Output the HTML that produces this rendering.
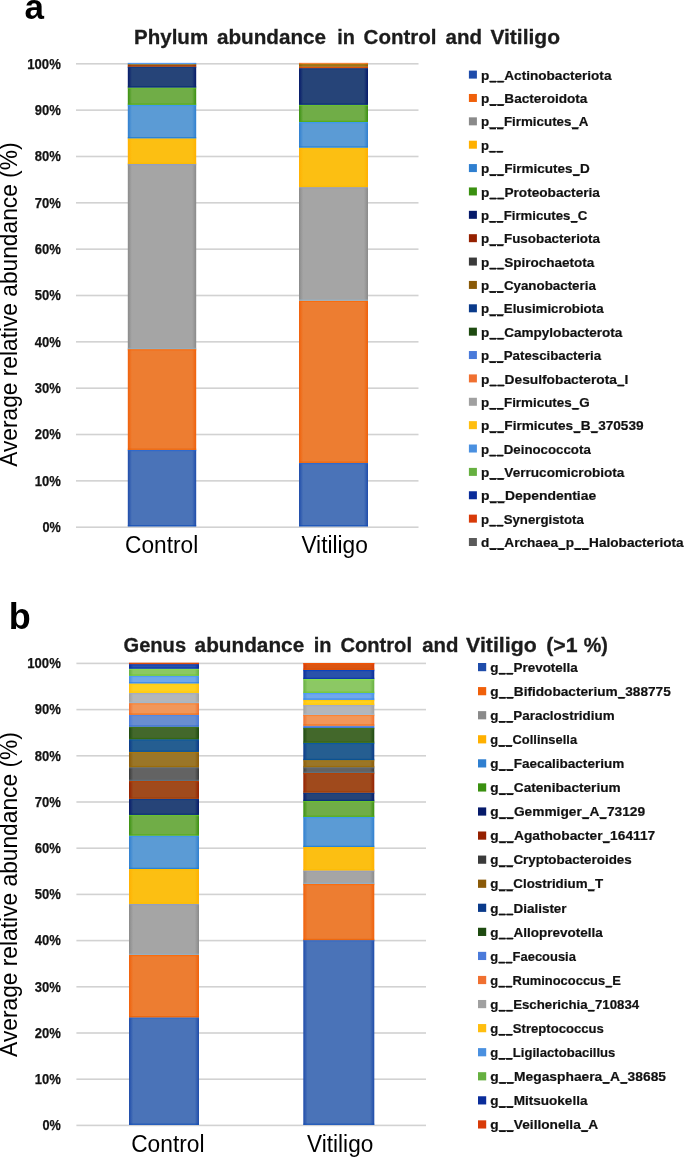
<!DOCTYPE html>
<html><head><meta charset="utf-8"><title>Phylum and Genus abundance</title>
<style>html,body{margin:0;padding:0;background:#fff;width:685px;height:1157px;overflow:hidden}</style>
</head><body>
<svg width="685" height="1157" viewBox="0 0 685 1157" style="display:block;font-family:'Liberation Sans', sans-serif;will-change:transform">
<defs><linearGradient id="g_blue" x1="0" y1="0" x2="1" y2="0"><stop offset="0" stop-color="#1F4CAA"/><stop offset="0.06" stop-color="#4A73B8"/><stop offset="0.94" stop-color="#4A73B8"/><stop offset="1" stop-color="#1F4CAA"/></linearGradient><linearGradient id="g_orange" x1="0" y1="0" x2="1" y2="0"><stop offset="0" stop-color="#F0600A"/><stop offset="0.06" stop-color="#ED7D31"/><stop offset="0.94" stop-color="#ED7D31"/><stop offset="1" stop-color="#F0600A"/></linearGradient><linearGradient id="g_gray" x1="0" y1="0" x2="1" y2="0"><stop offset="0" stop-color="#8A8A8A"/><stop offset="0.06" stop-color="#A5A5A5"/><stop offset="0.94" stop-color="#A5A5A5"/><stop offset="1" stop-color="#8A8A8A"/></linearGradient><linearGradient id="g_gold" x1="0" y1="0" x2="1" y2="0"><stop offset="0" stop-color="#FFB000"/><stop offset="0.06" stop-color="#FCBF12"/><stop offset="0.94" stop-color="#FCBF12"/><stop offset="1" stop-color="#FFB000"/></linearGradient><linearGradient id="g_lblue" x1="0" y1="0" x2="1" y2="0"><stop offset="0" stop-color="#2F7FD0"/><stop offset="0.06" stop-color="#5B9BD5"/><stop offset="0.94" stop-color="#5B9BD5"/><stop offset="1" stop-color="#2F7FD0"/></linearGradient><linearGradient id="g_green" x1="0" y1="0" x2="1" y2="0"><stop offset="0" stop-color="#3A9010"/><stop offset="0.06" stop-color="#70AD47"/><stop offset="0.94" stop-color="#70AD47"/><stop offset="1" stop-color="#3A9010"/></linearGradient><linearGradient id="g_navy" x1="0" y1="0" x2="1" y2="0"><stop offset="0" stop-color="#061A6A"/><stop offset="0.06" stop-color="#264478"/><stop offset="0.94" stop-color="#264478"/><stop offset="1" stop-color="#061A6A"/></linearGradient><linearGradient id="g_brown" x1="0" y1="0" x2="1" y2="0"><stop offset="0" stop-color="#952000"/><stop offset="0.06" stop-color="#A04A1C"/><stop offset="0.94" stop-color="#A04A1C"/><stop offset="1" stop-color="#952000"/></linearGradient><linearGradient id="g_dgold" x1="0" y1="0" x2="1" y2="0"><stop offset="0" stop-color="#8A5A08"/><stop offset="0.06" stop-color="#9A7628"/><stop offset="0.94" stop-color="#9A7628"/><stop offset="1" stop-color="#8A5A08"/></linearGradient><linearGradient id="g_lblue2" x1="0" y1="0" x2="1" y2="0"><stop offset="0" stop-color="#4A90E0"/><stop offset="0.06" stop-color="#70A8EC"/><stop offset="0.94" stop-color="#70A8EC"/><stop offset="1" stop-color="#4A90E0"/></linearGradient><linearGradient id="g_orange3" x1="0" y1="0" x2="1" y2="0"><stop offset="0" stop-color="#D83A08"/><stop offset="0.06" stop-color="#DA5512"/><stop offset="0.94" stop-color="#DA5512"/><stop offset="1" stop-color="#D83A08"/></linearGradient><linearGradient id="g_orange2" x1="0" y1="0" x2="1" y2="0"><stop offset="0" stop-color="#F07030"/><stop offset="0.06" stop-color="#F1975A"/><stop offset="0.94" stop-color="#F1975A"/><stop offset="1" stop-color="#F07030"/></linearGradient><linearGradient id="g_dgray" x1="0" y1="0" x2="1" y2="0"><stop offset="0" stop-color="#3A3A3A"/><stop offset="0.06" stop-color="#636363"/><stop offset="0.94" stop-color="#636363"/><stop offset="1" stop-color="#3A3A3A"/></linearGradient><linearGradient id="g_dlblue" x1="0" y1="0" x2="1" y2="0"><stop offset="0" stop-color="#0A3A8A"/><stop offset="0.06" stop-color="#255E91"/><stop offset="0.94" stop-color="#255E91"/><stop offset="1" stop-color="#0A3A8A"/></linearGradient><linearGradient id="g_dgreen" x1="0" y1="0" x2="1" y2="0"><stop offset="0" stop-color="#1E4A10"/><stop offset="0.06" stop-color="#43682B"/><stop offset="0.94" stop-color="#43682B"/><stop offset="1" stop-color="#1E4A10"/></linearGradient><linearGradient id="g_blue2" x1="0" y1="0" x2="1" y2="0"><stop offset="0" stop-color="#4A7ADA"/><stop offset="0.06" stop-color="#698ED0"/><stop offset="0.94" stop-color="#698ED0"/><stop offset="1" stop-color="#4A7ADA"/></linearGradient><linearGradient id="g_gray2" x1="0" y1="0" x2="1" y2="0"><stop offset="0" stop-color="#A0A0A0"/><stop offset="0.06" stop-color="#B3B6BA"/><stop offset="0.94" stop-color="#B3B6BA"/><stop offset="1" stop-color="#A0A0A0"/></linearGradient><linearGradient id="g_gold2" x1="0" y1="0" x2="1" y2="0"><stop offset="0" stop-color="#FFBE10"/><stop offset="0.06" stop-color="#FFD020"/><stop offset="0.94" stop-color="#FFD020"/><stop offset="1" stop-color="#FFBE10"/></linearGradient><linearGradient id="g_green2" x1="0" y1="0" x2="1" y2="0"><stop offset="0" stop-color="#66B040"/><stop offset="0.06" stop-color="#8CC864"/><stop offset="0.94" stop-color="#8CC864"/><stop offset="1" stop-color="#66B040"/></linearGradient><linearGradient id="g_blue3" x1="0" y1="0" x2="1" y2="0"><stop offset="0" stop-color="#0A2C9A"/><stop offset="0.06" stop-color="#2A52AA"/><stop offset="0.94" stop-color="#2A52AA"/><stop offset="1" stop-color="#0A2C9A"/></linearGradient></defs>
<rect x="0" y="0" width="685" height="1157" fill="#fff"/>
<rect x="76.00" y="63.00" width="342.50" height="1.60" fill="#d2d2d2" />
<rect x="76.00" y="109.34" width="342.50" height="1.60" fill="#d2d2d2" />
<rect x="76.00" y="155.68" width="342.50" height="1.60" fill="#d2d2d2" />
<rect x="76.00" y="202.02" width="342.50" height="1.60" fill="#d2d2d2" />
<rect x="76.00" y="248.36" width="342.50" height="1.60" fill="#d2d2d2" />
<rect x="76.00" y="294.70" width="342.50" height="1.60" fill="#d2d2d2" />
<rect x="76.00" y="341.04" width="342.50" height="1.60" fill="#d2d2d2" />
<rect x="76.00" y="387.38" width="342.50" height="1.60" fill="#d2d2d2" />
<rect x="76.00" y="433.72" width="342.50" height="1.60" fill="#d2d2d2" />
<rect x="76.00" y="480.06" width="342.50" height="1.60" fill="#d2d2d2" />
<rect x="76.00" y="526.40" width="342.50" height="1.60" fill="#d2d2d2" />
<rect x="127.80" y="449.90" width="68.40" height="76.50" fill="url(#g_blue)" />
<rect x="127.80" y="449.90" width="68.40" height="1.30" fill="#2566d4" opacity="0.7"/>
<rect x="127.80" y="525.10" width="68.40" height="1.30" fill="#0c4cb8" opacity="0.7"/>
<rect x="127.80" y="349.10" width="68.40" height="100.80" fill="url(#g_orange)" />
<rect x="127.80" y="349.10" width="68.40" height="1.30" fill="#ff6700" opacity="0.7"/>
<rect x="127.80" y="448.60" width="68.40" height="1.30" fill="#ed6000" opacity="0.7"/>
<rect x="127.80" y="164.00" width="68.40" height="185.10" fill="url(#g_gray)" />
<rect x="127.80" y="164.00" width="68.40" height="1.30" fill="#8e9bc8" opacity="0.7"/>
<rect x="127.80" y="347.80" width="68.40" height="1.30" fill="#90b0c8" opacity="0.7"/>
<rect x="127.80" y="138.30" width="68.40" height="25.70" fill="url(#g_gold)" />
<rect x="127.80" y="138.30" width="68.40" height="1.30" fill="#ffbd00" opacity="0.7"/>
<rect x="127.80" y="162.70" width="68.40" height="1.30" fill="#fcba00" opacity="0.7"/>
<rect x="127.80" y="104.80" width="68.40" height="33.50" fill="url(#g_lblue)" />
<rect x="127.80" y="104.80" width="68.40" height="1.30" fill="#3298f5" opacity="0.7"/>
<rect x="127.80" y="137.00" width="68.40" height="1.30" fill="#157ad5" opacity="0.7"/>
<rect x="127.80" y="87.50" width="68.40" height="17.30" fill="url(#g_green)" />
<rect x="127.80" y="87.50" width="68.40" height="1.30" fill="#66c725" opacity="0.7"/>
<rect x="127.80" y="103.50" width="68.40" height="1.30" fill="#4dad0d" opacity="0.7"/>
<rect x="127.80" y="66.70" width="68.40" height="20.80" fill="url(#g_navy)" />
<rect x="127.80" y="66.70" width="68.40" height="1.30" fill="#09388a" opacity="0.7"/>
<rect x="127.80" y="86.20" width="68.40" height="1.30" fill="#002c78" opacity="0.7"/>
<rect x="127.80" y="65.00" width="68.40" height="1.70" fill="url(#g_brown)" />
<rect x="127.80" y="65.00" width="68.40" height="0.57" fill="#b84000" opacity="0.7"/>
<rect x="127.80" y="66.13" width="68.40" height="0.57" fill="#a03800" opacity="0.7"/>
<rect x="127.80" y="64.10" width="68.40" height="0.90" fill="url(#g_dgold)" />
<rect x="127.80" y="64.10" width="68.40" height="0.30" fill="#b17900" opacity="0.7"/>
<rect x="127.80" y="64.70" width="68.40" height="0.30" fill="#9a6900" opacity="0.7"/>
<rect x="127.80" y="62.90" width="68.40" height="1.20" fill="url(#g_lblue2)" />
<rect x="127.80" y="62.90" width="68.40" height="0.40" fill="#4498ff" opacity="0.7"/>
<rect x="127.80" y="63.70" width="68.40" height="0.40" fill="#2780ec" opacity="0.7"/>
<rect x="299.00" y="462.90" width="69.00" height="63.50" fill="url(#g_blue)" />
<rect x="299.00" y="462.90" width="69.00" height="1.30" fill="#2566d4" opacity="0.7"/>
<rect x="299.00" y="525.10" width="69.00" height="1.30" fill="#0c4cb8" opacity="0.7"/>
<rect x="299.00" y="300.70" width="69.00" height="162.20" fill="url(#g_orange)" />
<rect x="299.00" y="300.70" width="69.00" height="1.30" fill="#ff6700" opacity="0.7"/>
<rect x="299.00" y="461.60" width="69.00" height="1.30" fill="#ed6000" opacity="0.7"/>
<rect x="299.00" y="187.10" width="69.00" height="113.60" fill="url(#g_gray)" />
<rect x="299.00" y="187.10" width="69.00" height="1.30" fill="#8e9bc8" opacity="0.7"/>
<rect x="299.00" y="299.40" width="69.00" height="1.30" fill="#90b0c8" opacity="0.7"/>
<rect x="299.00" y="147.60" width="69.00" height="39.50" fill="url(#g_gold)" />
<rect x="299.00" y="147.60" width="69.00" height="1.30" fill="#ffbd00" opacity="0.7"/>
<rect x="299.00" y="185.80" width="69.00" height="1.30" fill="#fcba00" opacity="0.7"/>
<rect x="299.00" y="122.00" width="69.00" height="25.60" fill="url(#g_lblue)" />
<rect x="299.00" y="122.00" width="69.00" height="1.30" fill="#3298f5" opacity="0.7"/>
<rect x="299.00" y="146.30" width="69.00" height="1.30" fill="#157ad5" opacity="0.7"/>
<rect x="299.00" y="104.80" width="69.00" height="17.20" fill="url(#g_green)" />
<rect x="299.00" y="104.80" width="69.00" height="1.30" fill="#66c725" opacity="0.7"/>
<rect x="299.00" y="120.70" width="69.00" height="1.30" fill="#4dad0d" opacity="0.7"/>
<rect x="299.00" y="68.10" width="69.00" height="36.70" fill="url(#g_navy)" />
<rect x="299.00" y="68.10" width="69.00" height="1.30" fill="#09388a" opacity="0.7"/>
<rect x="299.00" y="103.50" width="69.00" height="1.30" fill="#002c78" opacity="0.7"/>
<rect x="299.00" y="66.60" width="69.00" height="1.50" fill="url(#g_orange3)" />
<rect x="299.00" y="66.60" width="69.00" height="0.50" fill="#fb5400" opacity="0.7"/>
<rect x="299.00" y="67.60" width="69.00" height="0.50" fill="#da4900" opacity="0.7"/>
<rect x="299.00" y="64.00" width="69.00" height="2.60" fill="url(#g_dgold)" />
<rect x="299.00" y="64.00" width="69.00" height="0.87" fill="#b17900" opacity="0.7"/>
<rect x="299.00" y="65.73" width="69.00" height="0.87" fill="#9a6900" opacity="0.7"/>
<rect x="299.00" y="62.90" width="69.00" height="1.10" fill="url(#g_orange2)" />
<rect x="299.00" y="62.90" width="69.00" height="0.37" fill="#ff7c23" opacity="0.7"/>
<rect x="299.00" y="63.63" width="69.00" height="0.37" fill="#f16506" opacity="0.7"/>
<rect x="76.40" y="662.60" width="349.60" height="1.60" fill="#d2d2d2" />
<rect x="76.40" y="708.80" width="349.60" height="1.60" fill="#d2d2d2" />
<rect x="76.40" y="755.00" width="349.60" height="1.60" fill="#d2d2d2" />
<rect x="76.40" y="801.20" width="349.60" height="1.60" fill="#d2d2d2" />
<rect x="76.40" y="847.40" width="349.60" height="1.60" fill="#d2d2d2" />
<rect x="76.40" y="893.60" width="349.60" height="1.60" fill="#d2d2d2" />
<rect x="76.40" y="939.80" width="349.60" height="1.60" fill="#d2d2d2" />
<rect x="76.40" y="986.00" width="349.60" height="1.60" fill="#d2d2d2" />
<rect x="76.40" y="1032.20" width="349.60" height="1.60" fill="#d2d2d2" />
<rect x="76.40" y="1078.40" width="349.60" height="1.60" fill="#d2d2d2" />
<rect x="76.40" y="1124.60" width="349.60" height="1.60" fill="#d2d2d2" />
<rect x="129.00" y="1017.30" width="70.00" height="107.60" fill="url(#g_blue)" />
<rect x="129.00" y="1017.30" width="70.00" height="1.30" fill="#2566d4" opacity="0.7"/>
<rect x="129.00" y="1123.60" width="70.00" height="1.30" fill="#0c4cb8" opacity="0.7"/>
<rect x="129.00" y="954.90" width="70.00" height="62.40" fill="url(#g_orange)" />
<rect x="129.00" y="954.90" width="70.00" height="1.30" fill="#ff6700" opacity="0.7"/>
<rect x="129.00" y="1016.00" width="70.00" height="1.30" fill="#ed6000" opacity="0.7"/>
<rect x="129.00" y="903.90" width="70.00" height="51.00" fill="url(#g_gray)" />
<rect x="129.00" y="903.90" width="70.00" height="1.30" fill="#8e9bc8" opacity="0.7"/>
<rect x="129.00" y="953.60" width="70.00" height="1.30" fill="#90b0c8" opacity="0.7"/>
<rect x="129.00" y="869.00" width="70.00" height="34.90" fill="url(#g_gold)" />
<rect x="129.00" y="869.00" width="70.00" height="1.30" fill="#ffbd00" opacity="0.7"/>
<rect x="129.00" y="902.60" width="70.00" height="1.30" fill="#fcba00" opacity="0.7"/>
<rect x="129.00" y="835.60" width="70.00" height="33.40" fill="url(#g_lblue)" />
<rect x="129.00" y="835.60" width="70.00" height="1.30" fill="#3298f5" opacity="0.7"/>
<rect x="129.00" y="867.70" width="70.00" height="1.30" fill="#157ad5" opacity="0.7"/>
<rect x="129.00" y="814.90" width="70.00" height="20.70" fill="url(#g_green)" />
<rect x="129.00" y="814.90" width="70.00" height="1.30" fill="#66c725" opacity="0.7"/>
<rect x="129.00" y="834.30" width="70.00" height="1.30" fill="#4dad0d" opacity="0.7"/>
<rect x="129.00" y="798.80" width="70.00" height="16.10" fill="url(#g_navy)" />
<rect x="129.00" y="798.80" width="70.00" height="1.30" fill="#09388a" opacity="0.7"/>
<rect x="129.00" y="813.60" width="70.00" height="1.30" fill="#002c78" opacity="0.7"/>
<rect x="129.00" y="780.90" width="70.00" height="17.90" fill="url(#g_brown)" />
<rect x="129.00" y="780.90" width="70.00" height="1.30" fill="#b84000" opacity="0.7"/>
<rect x="129.00" y="797.50" width="70.00" height="1.30" fill="#a03800" opacity="0.7"/>
<rect x="129.00" y="767.20" width="70.00" height="13.70" fill="url(#g_dgray)" />
<rect x="129.00" y="767.20" width="70.00" height="1.30" fill="#5a6a80" opacity="0.7"/>
<rect x="129.00" y="779.60" width="70.00" height="1.30" fill="#5a7080" opacity="0.7"/>
<rect x="129.00" y="751.90" width="70.00" height="15.30" fill="url(#g_dgold)" />
<rect x="129.00" y="751.90" width="70.00" height="1.30" fill="#b17900" opacity="0.7"/>
<rect x="129.00" y="765.90" width="70.00" height="1.30" fill="#9a6900" opacity="0.7"/>
<rect x="129.00" y="739.20" width="70.00" height="12.70" fill="url(#g_dlblue)" />
<rect x="129.00" y="739.20" width="70.00" height="1.30" fill="#0058a7" opacity="0.7"/>
<rect x="129.00" y="750.60" width="70.00" height="1.30" fill="#004d91" opacity="0.7"/>
<rect x="129.00" y="726.70" width="70.00" height="12.50" fill="url(#g_dgreen)" />
<rect x="129.00" y="726.70" width="70.00" height="1.30" fill="#3d7816" opacity="0.7"/>
<rect x="129.00" y="737.90" width="70.00" height="1.30" fill="#2e6808" opacity="0.7"/>
<rect x="129.00" y="714.80" width="70.00" height="11.90" fill="url(#g_blue2)" />
<rect x="129.00" y="714.80" width="70.00" height="1.30" fill="#4985ef" opacity="0.7"/>
<rect x="129.00" y="725.40" width="70.00" height="1.30" fill="#2b66d0" opacity="0.7"/>
<rect x="129.00" y="703.10" width="70.00" height="11.70" fill="url(#g_orange2)" />
<rect x="129.00" y="703.10" width="70.00" height="1.30" fill="#ff7c23" opacity="0.7"/>
<rect x="129.00" y="713.50" width="70.00" height="1.30" fill="#f16506" opacity="0.7"/>
<rect x="129.00" y="692.90" width="70.00" height="10.20" fill="url(#g_gray2)" />
<rect x="129.00" y="692.90" width="70.00" height="1.30" fill="#a0a8c8" opacity="0.7"/>
<rect x="129.00" y="701.80" width="70.00" height="1.30" fill="#a0b8d0" opacity="0.7"/>
<rect x="129.00" y="683.40" width="70.00" height="9.50" fill="url(#g_gold2)" />
<rect x="129.00" y="683.40" width="70.00" height="1.30" fill="#ffc900" opacity="0.7"/>
<rect x="129.00" y="691.60" width="70.00" height="1.30" fill="#ffc900" opacity="0.7"/>
<rect x="129.00" y="675.80" width="70.00" height="7.60" fill="url(#g_lblue2)" />
<rect x="129.00" y="675.80" width="70.00" height="1.30" fill="#4498ff" opacity="0.7"/>
<rect x="129.00" y="682.10" width="70.00" height="1.30" fill="#2780ec" opacity="0.7"/>
<rect x="129.00" y="668.70" width="70.00" height="7.10" fill="url(#g_green2)" />
<rect x="129.00" y="668.70" width="70.00" height="1.30" fill="#85e645" opacity="0.7"/>
<rect x="129.00" y="674.50" width="70.00" height="1.30" fill="#68c828" opacity="0.7"/>
<rect x="129.00" y="664.10" width="70.00" height="4.60" fill="url(#g_blue3)" />
<rect x="129.00" y="664.10" width="70.00" height="1.30" fill="#003dc3" opacity="0.7"/>
<rect x="129.00" y="667.40" width="70.00" height="1.30" fill="#0035aa" opacity="0.7"/>
<rect x="129.00" y="662.80" width="70.00" height="1.30" fill="url(#g_orange3)" />
<rect x="129.00" y="662.80" width="70.00" height="0.43" fill="#fb5400" opacity="0.7"/>
<rect x="129.00" y="663.67" width="70.00" height="0.43" fill="#da4900" opacity="0.7"/>
<rect x="303.30" y="940.10" width="71.00" height="184.80" fill="url(#g_blue)" />
<rect x="303.30" y="940.10" width="71.00" height="1.30" fill="#2566d4" opacity="0.7"/>
<rect x="303.30" y="1123.60" width="71.00" height="1.30" fill="#0c4cb8" opacity="0.7"/>
<rect x="303.30" y="883.90" width="71.00" height="56.20" fill="url(#g_orange)" />
<rect x="303.30" y="883.90" width="71.00" height="1.30" fill="#ff6700" opacity="0.7"/>
<rect x="303.30" y="938.80" width="71.00" height="1.30" fill="#ed6000" opacity="0.7"/>
<rect x="303.30" y="870.40" width="71.00" height="13.50" fill="url(#g_gray)" />
<rect x="303.30" y="870.40" width="71.00" height="1.30" fill="#8e9bc8" opacity="0.7"/>
<rect x="303.30" y="882.60" width="71.00" height="1.30" fill="#90b0c8" opacity="0.7"/>
<rect x="303.30" y="847.00" width="71.00" height="23.40" fill="url(#g_gold)" />
<rect x="303.30" y="847.00" width="71.00" height="1.30" fill="#ffbd00" opacity="0.7"/>
<rect x="303.30" y="869.10" width="71.00" height="1.30" fill="#fcba00" opacity="0.7"/>
<rect x="303.30" y="816.90" width="71.00" height="30.10" fill="url(#g_lblue)" />
<rect x="303.30" y="816.90" width="71.00" height="1.30" fill="#3298f5" opacity="0.7"/>
<rect x="303.30" y="845.70" width="71.00" height="1.30" fill="#157ad5" opacity="0.7"/>
<rect x="303.30" y="801.00" width="71.00" height="15.90" fill="url(#g_green)" />
<rect x="303.30" y="801.00" width="71.00" height="1.30" fill="#66c725" opacity="0.7"/>
<rect x="303.30" y="815.60" width="71.00" height="1.30" fill="#4dad0d" opacity="0.7"/>
<rect x="303.30" y="792.60" width="71.00" height="8.40" fill="url(#g_navy)" />
<rect x="303.30" y="792.60" width="71.00" height="1.30" fill="#09388a" opacity="0.7"/>
<rect x="303.30" y="799.70" width="71.00" height="1.30" fill="#002c78" opacity="0.7"/>
<rect x="303.30" y="772.90" width="71.00" height="19.70" fill="url(#g_brown)" />
<rect x="303.30" y="772.90" width="71.00" height="1.30" fill="#b84000" opacity="0.7"/>
<rect x="303.30" y="791.30" width="71.00" height="1.30" fill="#a03800" opacity="0.7"/>
<rect x="303.30" y="767.20" width="71.00" height="5.70" fill="url(#g_dgray)" />
<rect x="303.30" y="767.20" width="71.00" height="1.30" fill="#5a6a80" opacity="0.7"/>
<rect x="303.30" y="771.60" width="71.00" height="1.30" fill="#5a7080" opacity="0.7"/>
<rect x="303.30" y="760.10" width="71.00" height="7.10" fill="url(#g_dgold)" />
<rect x="303.30" y="760.10" width="71.00" height="1.30" fill="#b17900" opacity="0.7"/>
<rect x="303.30" y="765.90" width="71.00" height="1.30" fill="#9a6900" opacity="0.7"/>
<rect x="303.30" y="742.80" width="71.00" height="17.30" fill="url(#g_dlblue)" />
<rect x="303.30" y="742.80" width="71.00" height="1.30" fill="#0058a7" opacity="0.7"/>
<rect x="303.30" y="758.80" width="71.00" height="1.30" fill="#004d91" opacity="0.7"/>
<rect x="303.30" y="728.00" width="71.00" height="14.80" fill="url(#g_dgreen)" />
<rect x="303.30" y="728.00" width="71.00" height="1.30" fill="#3d7816" opacity="0.7"/>
<rect x="303.30" y="741.50" width="71.00" height="1.30" fill="#2e6808" opacity="0.7"/>
<rect x="303.30" y="725.70" width="71.00" height="2.30" fill="url(#g_blue2)" />
<rect x="303.30" y="725.70" width="71.00" height="0.77" fill="#4985ef" opacity="0.7"/>
<rect x="303.30" y="727.23" width="71.00" height="0.77" fill="#2b66d0" opacity="0.7"/>
<rect x="303.30" y="714.80" width="71.00" height="10.90" fill="url(#g_orange2)" />
<rect x="303.30" y="714.80" width="71.00" height="1.30" fill="#ff7c23" opacity="0.7"/>
<rect x="303.30" y="724.40" width="71.00" height="1.30" fill="#f16506" opacity="0.7"/>
<rect x="303.30" y="704.90" width="71.00" height="9.90" fill="url(#g_gray2)" />
<rect x="303.30" y="704.90" width="71.00" height="1.30" fill="#a0a8c8" opacity="0.7"/>
<rect x="303.30" y="713.50" width="71.00" height="1.30" fill="#a0b8d0" opacity="0.7"/>
<rect x="303.30" y="699.80" width="71.00" height="5.10" fill="url(#g_gold2)" />
<rect x="303.30" y="699.80" width="71.00" height="1.30" fill="#ffc900" opacity="0.7"/>
<rect x="303.30" y="703.60" width="71.00" height="1.30" fill="#ffc900" opacity="0.7"/>
<rect x="303.30" y="692.90" width="71.00" height="6.90" fill="url(#g_lblue2)" />
<rect x="303.30" y="692.90" width="71.00" height="1.30" fill="#4498ff" opacity="0.7"/>
<rect x="303.30" y="698.50" width="71.00" height="1.30" fill="#2780ec" opacity="0.7"/>
<rect x="303.30" y="679.00" width="71.00" height="13.90" fill="url(#g_green2)" />
<rect x="303.30" y="679.00" width="71.00" height="1.30" fill="#85e645" opacity="0.7"/>
<rect x="303.30" y="691.60" width="71.00" height="1.30" fill="#68c828" opacity="0.7"/>
<rect x="303.30" y="669.90" width="71.00" height="9.10" fill="url(#g_blue3)" />
<rect x="303.30" y="669.90" width="71.00" height="1.30" fill="#003dc3" opacity="0.7"/>
<rect x="303.30" y="677.70" width="71.00" height="1.30" fill="#0035aa" opacity="0.7"/>
<rect x="303.30" y="663.00" width="71.00" height="6.90" fill="url(#g_orange3)" />
<rect x="303.30" y="663.00" width="71.00" height="1.30" fill="#fb5400" opacity="0.7"/>
<rect x="303.30" y="668.60" width="71.00" height="1.30" fill="#da4900" opacity="0.7"/>
<text x="24.60" y="19.10" font-size="35" font-weight="bold" fill="#000" text-anchor="start" >a</text>
<text x="8.70" y="628.60" font-size="36" font-weight="bold" fill="#000" text-anchor="start" >b</text>
<text x="134.09" y="44.40" font-size="20.3" font-weight="bold" fill="#1c1c1c" textLength="74.06" lengthAdjust="spacingAndGlyphs" stroke="#1c1c1c" stroke-width="0.3">Phylum</text>
<text x="217.00" y="44.40" font-size="20.3" font-weight="bold" fill="#1c1c1c" textLength="109.08" lengthAdjust="spacingAndGlyphs" stroke="#1c1c1c" stroke-width="0.3">abundance</text>
<text x="337.22" y="44.40" font-size="20.3" font-weight="bold" fill="#1c1c1c" textLength="17.66" lengthAdjust="spacingAndGlyphs" stroke="#1c1c1c" stroke-width="0.3">in</text>
<text x="363.60" y="44.40" font-size="20.3" font-weight="bold" fill="#1c1c1c" textLength="72.94" lengthAdjust="spacingAndGlyphs" stroke="#1c1c1c" stroke-width="0.3">Control</text>
<text x="445.50" y="44.40" font-size="20.3" font-weight="bold" fill="#1c1c1c" textLength="36.49" lengthAdjust="spacingAndGlyphs" stroke="#1c1c1c" stroke-width="0.3">and</text>
<text x="490.40" y="44.40" font-size="20.3" font-weight="bold" fill="#1c1c1c" textLength="69.60" lengthAdjust="spacingAndGlyphs" stroke="#1c1c1c" stroke-width="0.3">Vitiligo</text>
<text x="123.50" y="652.40" font-size="20.3" font-weight="bold" fill="#1c1c1c" textLength="62.58" lengthAdjust="spacingAndGlyphs" stroke="#1c1c1c" stroke-width="0.3">Genus</text>
<text x="194.60" y="652.40" font-size="20.3" font-weight="bold" fill="#1c1c1c" textLength="109.59" lengthAdjust="spacingAndGlyphs" stroke="#1c1c1c" stroke-width="0.3">abundance</text>
<text x="313.81" y="652.40" font-size="20.3" font-weight="bold" fill="#1c1c1c" textLength="17.77" lengthAdjust="spacingAndGlyphs" stroke="#1c1c1c" stroke-width="0.3">in</text>
<text x="340.40" y="652.40" font-size="20.3" font-weight="bold" fill="#1c1c1c" textLength="71.63" lengthAdjust="spacingAndGlyphs" stroke="#1c1c1c" stroke-width="0.3">Control</text>
<text x="422.30" y="652.40" font-size="20.3" font-weight="bold" fill="#1c1c1c" textLength="36.19" lengthAdjust="spacingAndGlyphs" stroke="#1c1c1c" stroke-width="0.3">and</text>
<text x="466.10" y="652.40" font-size="20.3" font-weight="bold" fill="#1c1c1c" textLength="70.61" lengthAdjust="spacingAndGlyphs" stroke="#1c1c1c" stroke-width="0.3">Vitiligo</text>
<text x="546.15" y="652.40" font-size="20.3" font-weight="bold" fill="#1c1c1c" textLength="31.34" lengthAdjust="spacingAndGlyphs" stroke="#1c1c1c" stroke-width="0.3">(&gt;1</text>
<text x="583.70" y="652.40" font-size="20.3" font-weight="bold" fill="#1c1c1c" textLength="24.13" lengthAdjust="spacingAndGlyphs" stroke="#1c1c1c" stroke-width="0.3">%)</text>
<text x="27.30" y="68.60" font-size="14.0" font-weight="bold" fill="#141414" textLength="33.48" lengthAdjust="spacingAndGlyphs" stroke="#141414" stroke-width="0.25">100%</text>
<text x="34.70" y="114.94" font-size="14.0" font-weight="bold" fill="#141414" textLength="26.09" lengthAdjust="spacingAndGlyphs" stroke="#141414" stroke-width="0.25">90%</text>
<text x="34.70" y="161.28" font-size="14.0" font-weight="bold" fill="#141414" textLength="26.09" lengthAdjust="spacingAndGlyphs" stroke="#141414" stroke-width="0.25">80%</text>
<text x="34.70" y="207.62" font-size="14.0" font-weight="bold" fill="#141414" textLength="26.09" lengthAdjust="spacingAndGlyphs" stroke="#141414" stroke-width="0.25">70%</text>
<text x="34.70" y="253.96" font-size="14.0" font-weight="bold" fill="#141414" textLength="26.09" lengthAdjust="spacingAndGlyphs" stroke="#141414" stroke-width="0.25">60%</text>
<text x="34.70" y="300.30" font-size="14.0" font-weight="bold" fill="#141414" textLength="26.09" lengthAdjust="spacingAndGlyphs" stroke="#141414" stroke-width="0.25">50%</text>
<text x="34.70" y="346.64" font-size="14.0" font-weight="bold" fill="#141414" textLength="26.09" lengthAdjust="spacingAndGlyphs" stroke="#141414" stroke-width="0.25">40%</text>
<text x="34.70" y="392.98" font-size="14.0" font-weight="bold" fill="#141414" textLength="26.09" lengthAdjust="spacingAndGlyphs" stroke="#141414" stroke-width="0.25">30%</text>
<text x="34.70" y="439.32" font-size="14.0" font-weight="bold" fill="#141414" textLength="26.09" lengthAdjust="spacingAndGlyphs" stroke="#141414" stroke-width="0.25">20%</text>
<text x="34.70" y="485.66" font-size="14.0" font-weight="bold" fill="#141414" textLength="26.09" lengthAdjust="spacingAndGlyphs" stroke="#141414" stroke-width="0.25">10%</text>
<text x="42.50" y="532.00" font-size="14.0" font-weight="bold" fill="#141414" textLength="18.30" lengthAdjust="spacingAndGlyphs" stroke="#141414" stroke-width="0.25">0%</text>
<text x="27.30" y="668.20" font-size="14.0" font-weight="bold" fill="#141414" textLength="33.48" lengthAdjust="spacingAndGlyphs" stroke="#141414" stroke-width="0.25">100%</text>
<text x="34.70" y="714.40" font-size="14.0" font-weight="bold" fill="#141414" textLength="26.09" lengthAdjust="spacingAndGlyphs" stroke="#141414" stroke-width="0.25">90%</text>
<text x="34.70" y="760.60" font-size="14.0" font-weight="bold" fill="#141414" textLength="26.09" lengthAdjust="spacingAndGlyphs" stroke="#141414" stroke-width="0.25">80%</text>
<text x="34.70" y="806.80" font-size="14.0" font-weight="bold" fill="#141414" textLength="26.09" lengthAdjust="spacingAndGlyphs" stroke="#141414" stroke-width="0.25">70%</text>
<text x="34.70" y="853.00" font-size="14.0" font-weight="bold" fill="#141414" textLength="26.09" lengthAdjust="spacingAndGlyphs" stroke="#141414" stroke-width="0.25">60%</text>
<text x="34.70" y="899.20" font-size="14.0" font-weight="bold" fill="#141414" textLength="26.09" lengthAdjust="spacingAndGlyphs" stroke="#141414" stroke-width="0.25">50%</text>
<text x="34.70" y="945.40" font-size="14.0" font-weight="bold" fill="#141414" textLength="26.09" lengthAdjust="spacingAndGlyphs" stroke="#141414" stroke-width="0.25">40%</text>
<text x="34.70" y="991.60" font-size="14.0" font-weight="bold" fill="#141414" textLength="26.09" lengthAdjust="spacingAndGlyphs" stroke="#141414" stroke-width="0.25">30%</text>
<text x="34.70" y="1037.80" font-size="14.0" font-weight="bold" fill="#141414" textLength="26.09" lengthAdjust="spacingAndGlyphs" stroke="#141414" stroke-width="0.25">20%</text>
<text x="34.70" y="1084.00" font-size="14.0" font-weight="bold" fill="#141414" textLength="26.09" lengthAdjust="spacingAndGlyphs" stroke="#141414" stroke-width="0.25">10%</text>
<text x="42.50" y="1130.20" font-size="14.0" font-weight="bold" fill="#141414" textLength="18.30" lengthAdjust="spacingAndGlyphs" stroke="#141414" stroke-width="0.25">0%</text>
<text x="125.11" y="552.60" font-size="23" font-weight="normal" fill="#000" textLength="73.08" lengthAdjust="spacingAndGlyphs" >Control</text>
<text x="301.40" y="552.60" font-size="23" font-weight="normal" fill="#000" textLength="66.48" lengthAdjust="spacingAndGlyphs" >Vitiligo</text>
<text x="131.21" y="1152.20" font-size="23" font-weight="normal" fill="#000" textLength="73.29" lengthAdjust="spacingAndGlyphs" >Control</text>
<text x="307.10" y="1152.00" font-size="23" font-weight="normal" fill="#000" textLength="66.18" lengthAdjust="spacingAndGlyphs" >Vitiligo</text>
<text transform="rotate(-90)" x="-466.80" y="16.90" font-size="23" font-weight="normal" fill="#000" textLength="324.25" lengthAdjust="spacingAndGlyphs">Average relative abundance (%)</text>
<text transform="rotate(-90)" x="-1056.90" y="16.90" font-size="23" font-weight="normal" fill="#000" textLength="324.75" lengthAdjust="spacingAndGlyphs">Average relative abundance (%)</text>
<rect x="468.90" y="70.60" width="8.00" height="8.00" fill="#1F4CAA" />
<text x="480.90" y="79.70" font-size="13.1" font-weight="bold" fill="#111111" textLength="130.56" lengthAdjust="spacingAndGlyphs" stroke="#111111" stroke-width="0.2">p__Actinobacteriota</text>
<rect x="489.70" y="80.80" width="6.55" height="1.8" fill="#111111"/>
<rect x="497.25" y="80.80" width="6.55" height="1.8" fill="#111111"/>
<rect x="468.90" y="93.97" width="8.00" height="8.00" fill="#F0600A" />
<text x="480.90" y="103.07" font-size="13.1" font-weight="bold" fill="#111111" textLength="106.55" lengthAdjust="spacingAndGlyphs" stroke="#111111" stroke-width="0.2">p__Bacteroidota</text>
<rect x="489.71" y="104.17" width="6.56" height="1.8" fill="#111111"/>
<rect x="497.27" y="104.17" width="6.56" height="1.8" fill="#111111"/>
<rect x="468.90" y="117.34" width="8.00" height="8.00" fill="#8A8A8A" />
<text x="480.90" y="126.44" font-size="13.1" font-weight="bold" fill="#111111" textLength="107.64" lengthAdjust="spacingAndGlyphs" stroke="#111111" stroke-width="0.2">p__Firmicutes_A</text>
<rect x="489.56" y="127.54" width="6.43" height="1.8" fill="#111111"/>
<rect x="496.99" y="127.54" width="6.43" height="1.8" fill="#111111"/>
<rect x="571.97" y="127.54" width="6.43" height="1.8" fill="#111111"/>
<rect x="468.90" y="140.71" width="8.00" height="8.00" fill="#FFB000" />
<text x="480.90" y="149.81" font-size="13.1" font-weight="bold" fill="#111111" textLength="22.48" lengthAdjust="spacingAndGlyphs" stroke="#111111" stroke-width="0.2">p__</text>
<rect x="489.37" y="150.91" width="6.26" height="1.8" fill="#111111"/>
<rect x="496.63" y="150.91" width="6.26" height="1.8" fill="#111111"/>
<rect x="468.90" y="164.08" width="8.00" height="8.00" fill="#2F7FD0" />
<text x="480.90" y="173.18" font-size="13.1" font-weight="bold" fill="#111111" textLength="108.97" lengthAdjust="spacingAndGlyphs" stroke="#111111" stroke-width="0.2">p__Firmicutes_D</text>
<rect x="489.66" y="174.28" width="6.52" height="1.8" fill="#111111"/>
<rect x="497.18" y="174.28" width="6.52" height="1.8" fill="#111111"/>
<rect x="573.08" y="174.28" width="6.52" height="1.8" fill="#111111"/>
<rect x="468.90" y="187.45" width="8.00" height="8.00" fill="#3A9010" />
<text x="480.90" y="196.55" font-size="13.1" font-weight="bold" fill="#111111" textLength="119.05" lengthAdjust="spacingAndGlyphs" stroke="#111111" stroke-width="0.2">p__Proteobacteria</text>
<rect x="489.73" y="197.65" width="6.59" height="1.8" fill="#111111"/>
<rect x="497.32" y="197.65" width="6.59" height="1.8" fill="#111111"/>
<rect x="468.90" y="210.82" width="8.00" height="8.00" fill="#061A6A" />
<text x="480.90" y="219.92" font-size="13.1" font-weight="bold" fill="#111111" textLength="106.45" lengthAdjust="spacingAndGlyphs" stroke="#111111" stroke-width="0.2">p__Firmicutes_C</text>
<rect x="489.47" y="221.02" width="6.35" height="1.8" fill="#111111"/>
<rect x="496.82" y="221.02" width="6.35" height="1.8" fill="#111111"/>
<rect x="570.96" y="221.02" width="6.35" height="1.8" fill="#111111"/>
<rect x="468.90" y="234.19" width="8.00" height="8.00" fill="#952000" />
<text x="480.90" y="243.29" font-size="13.1" font-weight="bold" fill="#111111" textLength="119.07" lengthAdjust="spacingAndGlyphs" stroke="#111111" stroke-width="0.2">p__Fusobacteriota</text>
<rect x="489.58" y="244.39" width="6.45" height="1.8" fill="#111111"/>
<rect x="497.03" y="244.39" width="6.45" height="1.8" fill="#111111"/>
<rect x="468.90" y="257.56" width="8.00" height="8.00" fill="#3A3A3A" />
<text x="480.90" y="266.66" font-size="13.1" font-weight="bold" fill="#111111" textLength="113.46" lengthAdjust="spacingAndGlyphs" stroke="#111111" stroke-width="0.2">p__Spirochaetota</text>
<rect x="489.66" y="267.76" width="6.52" height="1.8" fill="#111111"/>
<rect x="497.18" y="267.76" width="6.52" height="1.8" fill="#111111"/>
<rect x="468.90" y="280.93" width="8.00" height="8.00" fill="#8A5A08" />
<text x="480.90" y="290.03" font-size="13.1" font-weight="bold" fill="#111111" textLength="114.97" lengthAdjust="spacingAndGlyphs" stroke="#111111" stroke-width="0.2">p__Cyanobacteria</text>
<rect x="489.55" y="291.13" width="6.42" height="1.8" fill="#111111"/>
<rect x="496.97" y="291.13" width="6.42" height="1.8" fill="#111111"/>
<rect x="468.90" y="304.30" width="8.00" height="8.00" fill="#0A3A8A" />
<text x="480.90" y="313.40" font-size="13.1" font-weight="bold" fill="#111111" textLength="122.67" lengthAdjust="spacingAndGlyphs" stroke="#111111" stroke-width="0.2">p__Elusimicrobiota</text>
<rect x="489.52" y="314.50" width="6.40" height="1.8" fill="#111111"/>
<rect x="496.92" y="314.50" width="6.40" height="1.8" fill="#111111"/>
<rect x="468.90" y="327.67" width="8.00" height="8.00" fill="#1E4A10" />
<text x="480.90" y="336.77" font-size="13.1" font-weight="bold" fill="#111111" textLength="141.46" lengthAdjust="spacingAndGlyphs" stroke="#111111" stroke-width="0.2">p__Campylobacterota</text>
<rect x="489.67" y="337.87" width="6.53" height="1.8" fill="#111111"/>
<rect x="497.20" y="337.87" width="6.53" height="1.8" fill="#111111"/>
<rect x="468.90" y="351.04" width="8.00" height="8.00" fill="#4A7ADA" />
<text x="480.90" y="360.14" font-size="13.1" font-weight="bold" fill="#111111" textLength="120.27" lengthAdjust="spacingAndGlyphs" stroke="#111111" stroke-width="0.2">p__Patescibacteria</text>
<rect x="489.51" y="361.24" width="6.38" height="1.8" fill="#111111"/>
<rect x="496.89" y="361.24" width="6.38" height="1.8" fill="#111111"/>
<rect x="468.90" y="374.41" width="8.00" height="8.00" fill="#F07030" />
<text x="480.90" y="383.51" font-size="13.1" font-weight="bold" fill="#111111" textLength="147.47" lengthAdjust="spacingAndGlyphs" stroke="#111111" stroke-width="0.2">p__Desulfobacterota_I</text>
<rect x="489.80" y="384.61" width="6.65" height="1.8" fill="#111111"/>
<rect x="497.45" y="384.61" width="6.65" height="1.8" fill="#111111"/>
<rect x="617.40" y="384.61" width="6.65" height="1.8" fill="#111111"/>
<rect x="468.90" y="397.78" width="8.00" height="8.00" fill="#A0A0A0" />
<text x="480.90" y="406.88" font-size="13.1" font-weight="bold" fill="#111111" textLength="108.69" lengthAdjust="spacingAndGlyphs" stroke="#111111" stroke-width="0.2">p__Firmicutes_G</text>
<rect x="489.58" y="407.98" width="6.45" height="1.8" fill="#111111"/>
<rect x="497.03" y="407.98" width="6.45" height="1.8" fill="#111111"/>
<rect x="572.22" y="407.98" width="6.45" height="1.8" fill="#111111"/>
<rect x="468.90" y="421.15" width="8.00" height="8.00" fill="#FFBE10" />
<text x="480.90" y="430.25" font-size="13.1" font-weight="bold" fill="#111111" textLength="162.69" lengthAdjust="spacingAndGlyphs" stroke="#111111" stroke-width="0.2">p__Firmicutes_B_370539</text>
<rect x="489.72" y="431.35" width="6.57" height="1.8" fill="#111111"/>
<rect x="497.29" y="431.35" width="6.57" height="1.8" fill="#111111"/>
<rect x="573.70" y="431.35" width="6.57" height="1.8" fill="#111111"/>
<rect x="591.10" y="431.35" width="6.57" height="1.8" fill="#111111"/>
<rect x="468.90" y="444.52" width="8.00" height="8.00" fill="#4A90E0" />
<text x="480.90" y="453.62" font-size="13.1" font-weight="bold" fill="#111111" textLength="109.87" lengthAdjust="spacingAndGlyphs" stroke="#111111" stroke-width="0.2">p__Deinococcota</text>
<rect x="489.51" y="454.72" width="6.38" height="1.8" fill="#111111"/>
<rect x="496.89" y="454.72" width="6.38" height="1.8" fill="#111111"/>
<rect x="468.90" y="467.89" width="8.00" height="8.00" fill="#66B040" />
<text x="480.90" y="476.99" font-size="13.1" font-weight="bold" fill="#111111" textLength="143.55" lengthAdjust="spacingAndGlyphs" stroke="#111111" stroke-width="0.2">p__Verrucomicrobiota</text>
<rect x="489.70" y="478.09" width="6.56" height="1.8" fill="#111111"/>
<rect x="497.27" y="478.09" width="6.56" height="1.8" fill="#111111"/>
<rect x="468.90" y="491.26" width="8.00" height="8.00" fill="#0A2C9A" />
<text x="480.90" y="500.36" font-size="13.1" font-weight="bold" fill="#111111" textLength="115.30" lengthAdjust="spacingAndGlyphs" stroke="#111111" stroke-width="0.2">p__Dependentiae</text>
<rect x="489.91" y="501.46" width="6.74" height="1.8" fill="#111111"/>
<rect x="497.65" y="501.46" width="6.74" height="1.8" fill="#111111"/>
<rect x="468.90" y="514.63" width="8.00" height="8.00" fill="#D83A08" />
<text x="480.90" y="523.73" font-size="13.1" font-weight="bold" fill="#111111" textLength="102.88" lengthAdjust="spacingAndGlyphs" stroke="#111111" stroke-width="0.2">p__Synergistota</text>
<rect x="489.48" y="524.83" width="6.35" height="1.8" fill="#111111"/>
<rect x="496.83" y="524.83" width="6.35" height="1.8" fill="#111111"/>
<rect x="468.90" y="538.00" width="8.00" height="8.00" fill="#5A5A5A" />
<text x="480.90" y="547.10" font-size="13.1" font-weight="bold" fill="#111111" textLength="202.75" lengthAdjust="spacingAndGlyphs" stroke="#111111" stroke-width="0.2">d__Archaea_p__Halobacteriota</text>
<rect x="489.71" y="548.20" width="6.57" height="1.8" fill="#111111"/>
<rect x="497.28" y="548.20" width="6.57" height="1.8" fill="#111111"/>
<rect x="558.58" y="548.20" width="6.57" height="1.8" fill="#111111"/>
<rect x="574.46" y="548.20" width="6.57" height="1.8" fill="#111111"/>
<rect x="582.03" y="548.20" width="6.57" height="1.8" fill="#111111"/>
<rect x="478.00" y="663.00" width="8.20" height="8.20" fill="#1F4CAA" />
<text x="490.30" y="671.80" font-size="13.1" font-weight="bold" fill="#111111" textLength="87.46" lengthAdjust="spacingAndGlyphs" stroke="#111111" stroke-width="0.2">g__Prevotella</text>
<rect x="499.02" y="672.90" width="6.48" height="1.8" fill="#111111"/>
<rect x="506.49" y="672.90" width="6.48" height="1.8" fill="#111111"/>
<rect x="478.00" y="687.07" width="8.20" height="8.20" fill="#F0600A" />
<text x="490.30" y="695.87" font-size="13.1" font-weight="bold" fill="#111111" textLength="180.49" lengthAdjust="spacingAndGlyphs" stroke="#111111" stroke-width="0.2">g__Bifidobacterium_388775</text>
<rect x="499.13" y="696.97" width="6.59" height="1.8" fill="#111111"/>
<rect x="506.72" y="696.97" width="6.59" height="1.8" fill="#111111"/>
<rect x="618.17" y="696.97" width="6.59" height="1.8" fill="#111111"/>
<rect x="478.00" y="711.14" width="8.20" height="8.20" fill="#8A8A8A" />
<text x="490.30" y="719.94" font-size="13.1" font-weight="bold" fill="#111111" textLength="124.26" lengthAdjust="spacingAndGlyphs" stroke="#111111" stroke-width="0.2">g__Paraclostridium</text>
<rect x="498.98" y="721.04" width="6.45" height="1.8" fill="#111111"/>
<rect x="506.42" y="721.04" width="6.45" height="1.8" fill="#111111"/>
<rect x="478.00" y="735.21" width="8.20" height="8.20" fill="#FFB000" />
<text x="490.30" y="744.01" font-size="13.1" font-weight="bold" fill="#111111" textLength="86.79" lengthAdjust="spacingAndGlyphs" stroke="#111111" stroke-width="0.2">g__Collinsella</text>
<rect x="498.68" y="745.11" width="6.18" height="1.8" fill="#111111"/>
<rect x="505.86" y="745.11" width="6.18" height="1.8" fill="#111111"/>
<rect x="478.00" y="759.28" width="8.20" height="8.20" fill="#2F7FD0" />
<text x="490.30" y="768.08" font-size="13.1" font-weight="bold" fill="#111111" textLength="133.96" lengthAdjust="spacingAndGlyphs" stroke="#111111" stroke-width="0.2">g__Faecalibacterium</text>
<rect x="499.07" y="769.18" width="6.53" height="1.8" fill="#111111"/>
<rect x="506.60" y="769.18" width="6.53" height="1.8" fill="#111111"/>
<rect x="478.00" y="783.35" width="8.20" height="8.20" fill="#3A9010" />
<text x="490.30" y="792.15" font-size="13.1" font-weight="bold" fill="#111111" textLength="130.37" lengthAdjust="spacingAndGlyphs" stroke="#111111" stroke-width="0.2">g__Catenibacterium</text>
<rect x="499.13" y="793.25" width="6.59" height="1.8" fill="#111111"/>
<rect x="506.72" y="793.25" width="6.59" height="1.8" fill="#111111"/>
<rect x="478.00" y="807.42" width="8.20" height="8.20" fill="#061A6A" />
<text x="490.30" y="816.22" font-size="13.1" font-weight="bold" fill="#111111" textLength="154.80" lengthAdjust="spacingAndGlyphs" stroke="#111111" stroke-width="0.2">g__Gemmiger_A_73129</text>
<rect x="499.18" y="817.32" width="6.63" height="1.8" fill="#111111"/>
<rect x="506.81" y="817.32" width="6.63" height="1.8" fill="#111111"/>
<rect x="582.29" y="817.32" width="6.63" height="1.8" fill="#111111"/>
<rect x="599.82" y="817.32" width="6.63" height="1.8" fill="#111111"/>
<rect x="478.00" y="831.49" width="8.20" height="8.20" fill="#952000" />
<text x="490.30" y="840.29" font-size="13.1" font-weight="bold" fill="#111111" textLength="164.90" lengthAdjust="spacingAndGlyphs" stroke="#111111" stroke-width="0.2">g__Agathobacter_164117</text>
<rect x="499.19" y="841.39" width="6.64" height="1.8" fill="#111111"/>
<rect x="506.83" y="841.39" width="6.64" height="1.8" fill="#111111"/>
<rect x="602.99" y="841.39" width="6.64" height="1.8" fill="#111111"/>
<rect x="478.00" y="855.56" width="8.20" height="8.20" fill="#3A3A3A" />
<text x="490.30" y="864.36" font-size="13.1" font-weight="bold" fill="#111111" textLength="141.49" lengthAdjust="spacingAndGlyphs" stroke="#111111" stroke-width="0.2">g__Cryptobacteroides</text>
<rect x="498.99" y="865.46" width="6.45" height="1.8" fill="#111111"/>
<rect x="506.44" y="865.46" width="6.45" height="1.8" fill="#111111"/>
<rect x="478.00" y="879.63" width="8.20" height="8.20" fill="#8A5A08" />
<text x="490.30" y="888.43" font-size="13.1" font-weight="bold" fill="#111111" textLength="112.80" lengthAdjust="spacingAndGlyphs" stroke="#111111" stroke-width="0.2">g__Clostridium_T</text>
<rect x="498.96" y="889.53" width="6.43" height="1.8" fill="#111111"/>
<rect x="506.39" y="889.53" width="6.43" height="1.8" fill="#111111"/>
<rect x="588.01" y="889.53" width="6.43" height="1.8" fill="#111111"/>
<rect x="478.00" y="903.70" width="8.20" height="8.20" fill="#0A3A8A" />
<text x="490.30" y="912.50" font-size="13.1" font-weight="bold" fill="#111111" textLength="76.30" lengthAdjust="spacingAndGlyphs" stroke="#111111" stroke-width="0.2">g__Dialister</text>
<rect x="499.02" y="913.60" width="6.48" height="1.8" fill="#111111"/>
<rect x="506.51" y="913.60" width="6.48" height="1.8" fill="#111111"/>
<rect x="478.00" y="927.77" width="8.20" height="8.20" fill="#1E4A10" />
<text x="490.30" y="936.57" font-size="13.1" font-weight="bold" fill="#111111" textLength="112.56" lengthAdjust="spacingAndGlyphs" stroke="#111111" stroke-width="0.2">g__Alloprevotella</text>
<rect x="499.05" y="937.67" width="6.51" height="1.8" fill="#111111"/>
<rect x="506.56" y="937.67" width="6.51" height="1.8" fill="#111111"/>
<rect x="478.00" y="951.84" width="8.20" height="8.20" fill="#4A7ADA" />
<text x="490.30" y="960.64" font-size="13.1" font-weight="bold" fill="#111111" textLength="85.59" lengthAdjust="spacingAndGlyphs" stroke="#111111" stroke-width="0.2">g__Faecousia</text>
<rect x="498.70" y="961.74" width="6.20" height="1.8" fill="#111111"/>
<rect x="505.90" y="961.74" width="6.20" height="1.8" fill="#111111"/>
<rect x="478.00" y="975.91" width="8.20" height="8.20" fill="#F07030" />
<text x="490.30" y="984.71" font-size="13.1" font-weight="bold" fill="#111111" textLength="130.64" lengthAdjust="spacingAndGlyphs" stroke="#111111" stroke-width="0.2">g__Ruminococcus_E</text>
<rect x="498.69" y="985.81" width="6.18" height="1.8" fill="#111111"/>
<rect x="505.87" y="985.81" width="6.18" height="1.8" fill="#111111"/>
<rect x="605.64" y="985.81" width="6.18" height="1.8" fill="#111111"/>
<rect x="478.00" y="999.98" width="8.20" height="8.20" fill="#A0A0A0" />
<text x="490.30" y="1008.78" font-size="13.1" font-weight="bold" fill="#111111" textLength="148.87" lengthAdjust="spacingAndGlyphs" stroke="#111111" stroke-width="0.2">g__Escherichia_710834</text>
<rect x="498.90" y="1009.88" width="6.37" height="1.8" fill="#111111"/>
<rect x="506.27" y="1009.88" width="6.37" height="1.8" fill="#111111"/>
<rect x="588.07" y="1009.88" width="6.37" height="1.8" fill="#111111"/>
<rect x="478.00" y="1024.05" width="8.20" height="8.20" fill="#FFBE10" />
<text x="490.30" y="1032.85" font-size="13.1" font-weight="bold" fill="#111111" textLength="113.58" lengthAdjust="spacingAndGlyphs" stroke="#111111" stroke-width="0.2">g__Streptococcus</text>
<rect x="498.80" y="1033.95" width="6.29" height="1.8" fill="#111111"/>
<rect x="506.09" y="1033.95" width="6.29" height="1.8" fill="#111111"/>
<rect x="478.00" y="1048.12" width="8.20" height="8.20" fill="#4A90E0" />
<text x="490.30" y="1056.92" font-size="13.1" font-weight="bold" fill="#111111" textLength="125.08" lengthAdjust="spacingAndGlyphs" stroke="#111111" stroke-width="0.2">g__Ligilactobacillus</text>
<rect x="498.79" y="1058.02" width="6.28" height="1.8" fill="#111111"/>
<rect x="506.07" y="1058.02" width="6.28" height="1.8" fill="#111111"/>
<rect x="478.00" y="1072.19" width="8.20" height="8.20" fill="#66B040" />
<text x="490.30" y="1080.99" font-size="13.1" font-weight="bold" fill="#111111" textLength="175.70" lengthAdjust="spacingAndGlyphs" stroke="#111111" stroke-width="0.2">g__Megasphaera_A_38685</text>
<rect x="499.23" y="1082.09" width="6.68" height="1.8" fill="#111111"/>
<rect x="506.91" y="1082.09" width="6.68" height="1.8" fill="#111111"/>
<rect x="602.80" y="1082.09" width="6.68" height="1.8" fill="#111111"/>
<rect x="620.44" y="1082.09" width="6.68" height="1.8" fill="#111111"/>
<rect x="478.00" y="1096.26" width="8.20" height="8.20" fill="#0A2C9A" />
<text x="490.30" y="1105.06" font-size="13.1" font-weight="bold" fill="#111111" textLength="97.16" lengthAdjust="spacingAndGlyphs" stroke="#111111" stroke-width="0.2">g__Mitsuokella</text>
<rect x="499.08" y="1106.16" width="6.54" height="1.8" fill="#111111"/>
<rect x="506.62" y="1106.16" width="6.54" height="1.8" fill="#111111"/>
<rect x="478.00" y="1120.33" width="8.20" height="8.20" fill="#D83A08" />
<text x="490.30" y="1129.13" font-size="13.1" font-weight="bold" fill="#111111" textLength="107.93" lengthAdjust="spacingAndGlyphs" stroke="#111111" stroke-width="0.2">g__Veillonella_A</text>
<rect x="499.15" y="1130.23" width="6.61" height="1.8" fill="#111111"/>
<rect x="506.76" y="1130.23" width="6.61" height="1.8" fill="#111111"/>
<rect x="581.25" y="1130.23" width="6.61" height="1.8" fill="#111111"/>
</svg>
</body></html>
